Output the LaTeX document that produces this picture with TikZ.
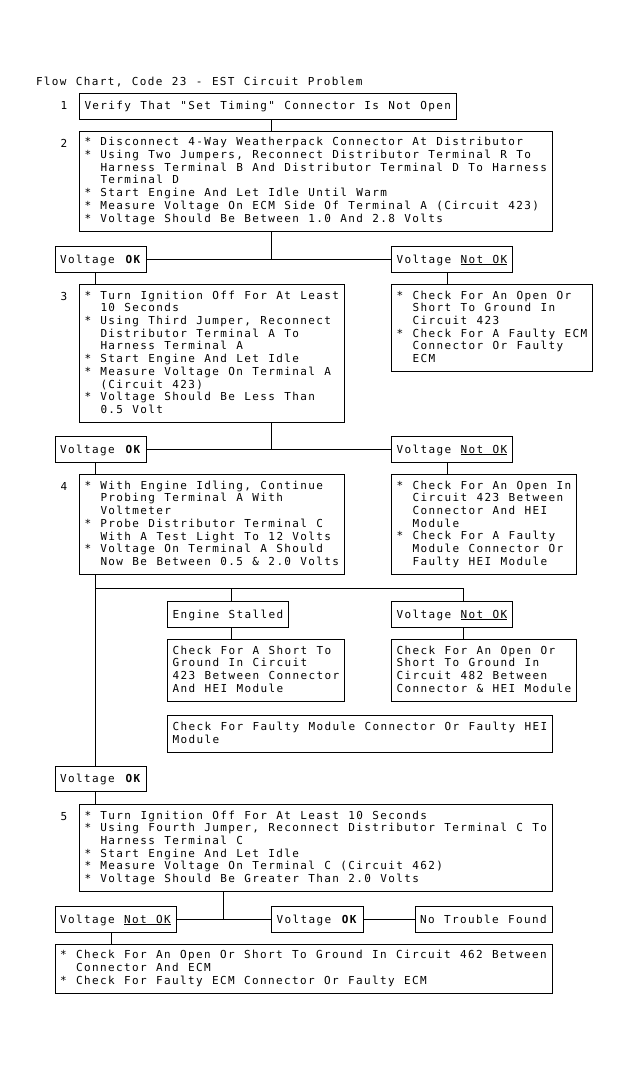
\documentclass[tikz,border=0pt]{standalone}
\usepackage{fontspec}
\usepackage{tikz}
\usetikzlibrary{positioning,calc}

\newfontfamily\chartfont[LetterSpace=12.52]{DejaVu Sans Mono}
\newcommand{\chartsize}{\fontsize{11pt}{12.7pt}\selectfont\chartfont\spaceskip=9.38pt\relax\xspaceskip=9.38pt\relax}
\newcommand{\lnstrut}{\rule[-2.8pt]{0pt}{12.7pt}}
\newcommand{\ind}{\hspace*{16pt}}
\newcommand{\undl}[1]{\setbox0\hbox{#1}\rlap{\rule[-2.2pt]{\wd0}{0.9pt}}\box0}

\begin{document}
\begin{tikzpicture}[
    x=1pt, y=-1pt,
    every node/.style={font=\chartsize, inner sep=0pt, outer sep=0pt},
    stepbox/.style={draw, line width=1pt, anchor=north west, align=left, inner xsep=5.2pt, inner ysep=6.5pt,
        execute at begin node=\lnstrut, execute at end node=\lnstrut},
    num/.style={anchor=base},
    link/.style={line width=1pt}
]
\useasboundingbox (0, 0) rectangle (630, 1071);

% Title
\node[anchor=base west] (title) at (36, 85) {Flow Chart, Code 23 - EST Circuit Problem};

% Steps 1 and 2
\node[num] (n1) at (64, 109.7) {1};
\node[stepbox] (b1) at (79.3, 93.3) {Verify That "Set Timing" Connector Is Not Open};
\node[num] (n2) at (64, 147.4) {2};
\node[stepbox] (b2) at (79.3, 131) {* Disconnect 4-Way Weatherpack Connector At Distributor\\
* Using Two Jumpers, Reconnect Distributor Terminal R To\\
\ind Harness Terminal B And Distributor Terminal D To Harness\\
\ind Terminal D\\
* Start Engine And Let Idle Until Warm\\
* Measure Voltage On ECM Side Of Terminal A (Circuit 423)\\
* Voltage Should Be Between 1.0 And 2.8 Volts};

% First answer row
\node[stepbox] (ok2) at (55, 246.7) {Voltage \textbf{OK}};
\node[stepbox] (nok2) at (391.4, 246.7) {Voltage \undl{Not OK}};

% Step 3
\node[num] (n3) at (64, 300.7) {3};
\node[stepbox] (b3) at (79.3, 284.3) {* Turn Ignition Off For At Least\\
\ind 10 Seconds\\
* Using Third Jumper, Reconnect\\
\ind Distributor Terminal A To\\
\ind Harness Terminal A\\
* Start Engine And Let Idle\\
* Measure Voltage On Terminal A\\
\ind (Circuit 423)\\
* Voltage Should Be Less Than\\
\ind 0.5 Volt};
\node[stepbox] (b3r) at (391.4, 284.3) {* Check For An Open Or\\
\ind Short To Ground In\\
\ind Circuit 423\\
* Check For A Faulty ECM\\
\ind Connector Or Faulty\\
\ind ECM};

% Second answer row
\node[stepbox] (ok3) at (55, 436.7) {Voltage \textbf{OK}};
\node[stepbox] (nok3) at (391.4, 436.7) {Voltage \undl{Not OK}};

% Step 4
\node[num] (n4) at (64, 490.7) {4};
\node[stepbox] (b4) at (79.3, 474.3) {* With Engine Idling, Continue\\
\ind Probing Terminal A With\\
\ind Voltmeter\\
* Probe Distributor Terminal C\\
\ind With A Test Light To 12 Volts\\
* Voltage On Terminal A Should\\
\ind Now Be Between 0.5 \& 2.0 Volts};
\node[stepbox] (b4r) at (391.4, 474.3) {* Check For An Open In\\
\ind Circuit 423 Between\\
\ind Connector And HEI\\
\ind Module\\
* Check For A Faulty\\
\ind Module Connector Or\\
\ind Faulty HEI Module};

% Test light branches
\node[stepbox] (es) at (167.5, 601.7) {Engine Stalled};
\node[stepbox] (nok4) at (391.4, 601.7) {Voltage \undl{Not OK}};
\node[stepbox] (ca) at (167.5, 639.3) {Check For A Short To\\
Ground In Circuit\\
423 Between Connector\\
And HEI Module};
\node[stepbox] (cb) at (391.4, 639.3) {Check For An Open Or\\
Short To Ground In\\
Circuit 482 Between\\
Connector \& HEI Module};
\node[stepbox] (wide) at (167.5, 715.7) {Check For Faulty Module Connector Or Faulty HEI\\
Module};

% Step 5
\node[stepbox] (ok5) at (55, 766) {Voltage \textbf{OK}};
\node[num] (n5) at (64, 820.7) {5};
\node[stepbox] (b5) at (79.3, 804.3) {* Turn Ignition Off For At Least 10 Seconds\\
* Using Fourth Jumper, Reconnect Distributor Terminal C To\\
\ind Harness Terminal C\\
* Start Engine And Let Idle\\
* Measure Voltage On Terminal C (Circuit 462)\\
* Voltage Should Be Greater Than 2.0 Volts};

% Last answer row
\node[stepbox] (nok6) at (55, 906.7) {Voltage \undl{Not OK}};
\node[stepbox] (ok6) at (271.4, 906.7) {Voltage \textbf{OK}};
\node[stepbox] (ntf) at (415, 906.7) {No Trouble Found};
\node[stepbox] (fin) at (55, 944) {* Check For An Open Or Short To Ground In Circuit 462 Between\\
\ind Connector And ECM\\
* Check For Faulty ECM Connector Or Faulty ECM};

% Junction points
\coordinate (j2) at (271, 0);
\coordinate (j6) at (223.2, 0);
\coordinate (tl) at (95.4, 0);
\coordinate (tr) at (447.3, 0);
\coordinate (tf) at (111.4, 0);
\coordinate (k0) at (95.4, 588.3);
\coordinate (k1) at (231, 588.3);
\coordinate (k2) at (463.2, 588.3);

% Connectors
\draw[link] (b1.south -| j2) -- (b2.north -| j2);
\draw[link] (b2.south -| j2) -- (j2 |- ok2);
\draw[link] (ok2) -- (nok2);
\draw[link] (ok2.south -| tl) -- (b3.north -| tl);
\draw[link] (nok2.south -| tr) -- (b3r.north -| tr);
\draw[link] (b3.south -| j2) -- (j2 |- ok3);
\draw[link] (ok3) -- (nok3);
\draw[link] (ok3.south -| tl) -- (b4.north -| tl);
\draw[link] (nok3.south -| tr) -- (b4r.north -| tr);
\draw[link] (b4.south -| tl) -- (ok5.north -| tl);
\draw[link] (k0) -- (k2);
\draw[link] (k1) -- (es.north -| k1);
\draw[link] (k2) -- (nok4.north -| k2);
\draw[link] (es.south -| k1) -- (ca.north -| k1);
\draw[link] (nok4.south -| k2) -- (cb.north -| k2);
\draw[link] (ok5.south -| tl) -- (b5.north -| tl);
\draw[link] (b5.south -| j6) -- (j6 |- ok6);
\draw[link] (nok6) -- (ok6);
\draw[link] (ok6) -- (ntf);
\draw[link] (nok6.south -| tf) -- (fin.north -| tf);

\end{tikzpicture}
\end{document}
